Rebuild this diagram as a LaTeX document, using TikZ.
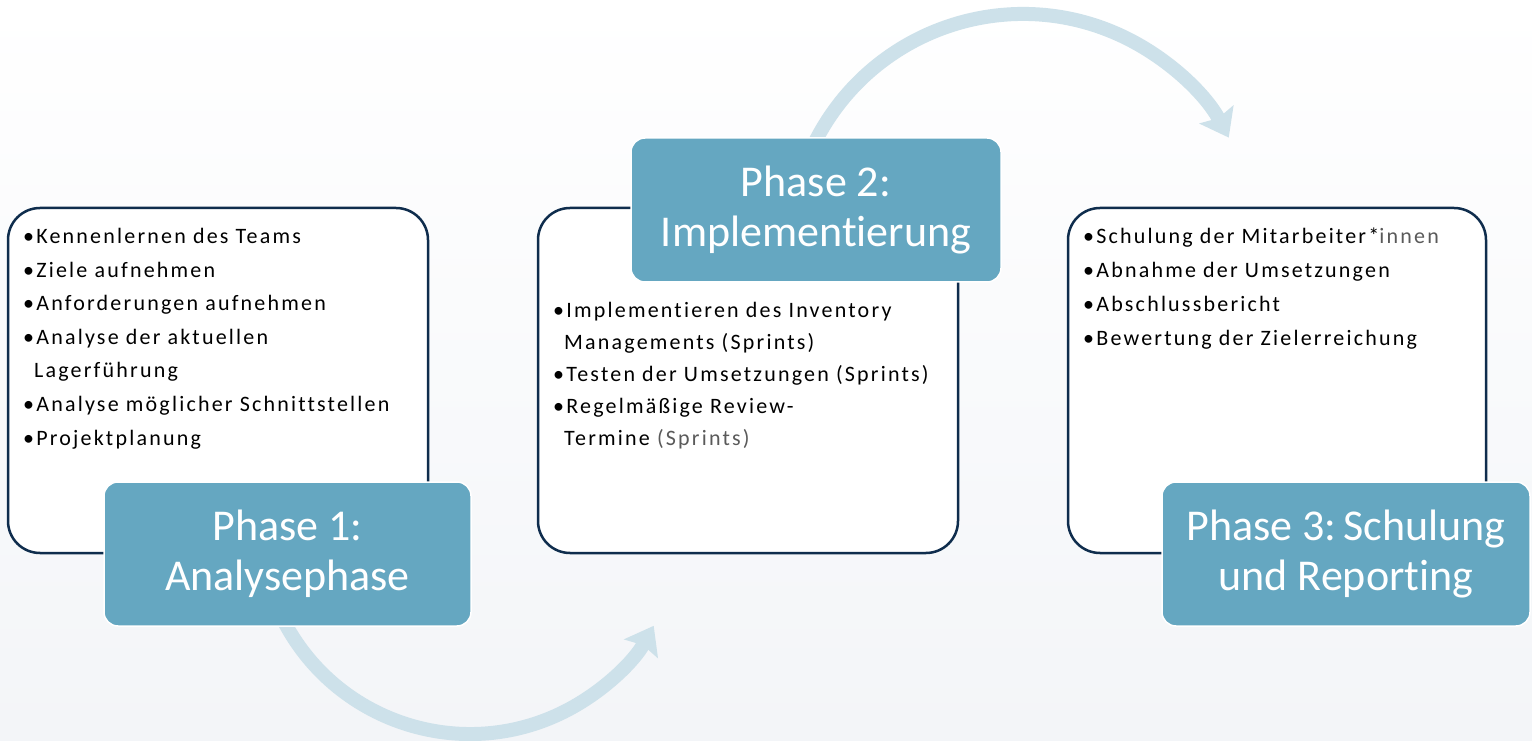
\documentclass[tikz,border=0pt]{standalone}
\usepackage{fontspec}
\setmainfont{Carlito}[Ligatures=NoCommon]
\newfontfamily\listfont{Carlito}[Ligatures=NoCommon, LetterSpace=10]
\usetikzlibrary{arrows.meta,positioning}
\definecolor{phaseTeal}{HTML}{65A7C1}
\definecolor{flowBlue}{HTML}{CDE1EA}
\definecolor{boxNavy}{HTML}{0F2D4D}
\definecolor{bgGray}{HTML}{F3F5F8}
\definecolor{softGray}{HTML}{5A5A5A}
\newcommand{\topstrut}{\rule{0pt}{20pt}}
\newcommand{\hang}{\phantom{\textbullet}}

\tikzset{
  taskbox/.style={draw=boxNavy, line width=2.5pt, fill=white, rounded corners=32pt,
    minimum width=420pt, minimum height=345pt, inner sep=0pt},
  phasebox/.style={draw=white, line width=1.5pt, fill=phaseTeal, rounded corners=14pt,
    text=white, align=center, font=\fontsize{44}{50}\selectfont,
    minimum width=368pt, minimum height=144pt, inner sep=0pt},
  tasklist/.style={align=left, anchor=north west, inner sep=0pt},
  flow/.style={flowBlue, line width=14pt, -{Stealth[length=26pt,width=38pt,inset=4pt]}}
}

\begin{document}
\begin{tikzpicture}[x=1pt,y=1pt]
    \useasboundingbox (0,0) rectangle (1532,740);
    \shade[top color=white, bottom color=bgGray] (0,0) rectangle (1532,740);

    % curved flow arrows between the phases
    \coordinate (flowA) at (284.6,117.4);
    \coordinate (flowB) at (815.4,598.8);
    \draw[flow] (flowA) arc[start angle=208, end angle=331, radius=210pt];
    \draw[flow] (flowB) arc[start angle=153, end angle=28, radius=233pt];

    % task boxes
    \node[taskbox] (box1) at (218,359.5) {};
    \node[taskbox] (box2) at (748,359.5) {};
    \node[taskbox, minimum width=418pt] (box3) at (1277,359.5) {};

    % phase labels
    \node[phasebox, minimum width=367pt] (phase1) at (287.5,186) {Phase 1:\\Analysephase};
    \node[phasebox, minimum width=370pt] (phase2) at (816,530) {Phase 2:\\Implementierung};
    \node[phasebox] (phase3) at (1346,186) {Phase 3:\,Schulung\\und Reporting};

    % task lists
    \node[tasklist, font=\listfont\fontsize{22}{33.6}\selectfont] (list1) at (23,516.7)
      {\topstrut\textbullet Kennenlernen des Teams\\
       \textbullet Ziele aufnehmen\\
       \textbullet Anforderungen aufnehmen\\
       \textbullet Analyse der aktuellen\\
       \hang Lagerführung\\
       \textbullet Analyse möglicher Schnittstellen\\
       \textbullet Projektplanung};
    \node[tasklist, font=\listfont\fontsize{22}{32}\selectfont] (list2) at (553,443)
      {\topstrut\textbullet Implementieren des Inventory\\
       \hang Managements (Sprints)\\
       \textbullet Testen der Umsetzungen (Sprints)\\
       \textbullet Regelmäßige Review-\\
       \hang Termine \textcolor{softGray}{(Sprints)}};
    \node[tasklist, font=\listfont\fontsize{22}{34.2}\selectfont] (list3) at (1083,517)
      {\topstrut\textbullet Schulung der Mitarbeiter*\textcolor{softGray}{innen}\\
       \textbullet Abnahme der Umsetzungen\\
       \textbullet Abschlussbericht\\
       \textbullet Bewertung der Zielerreichung};
\end{tikzpicture}
\end{document}
